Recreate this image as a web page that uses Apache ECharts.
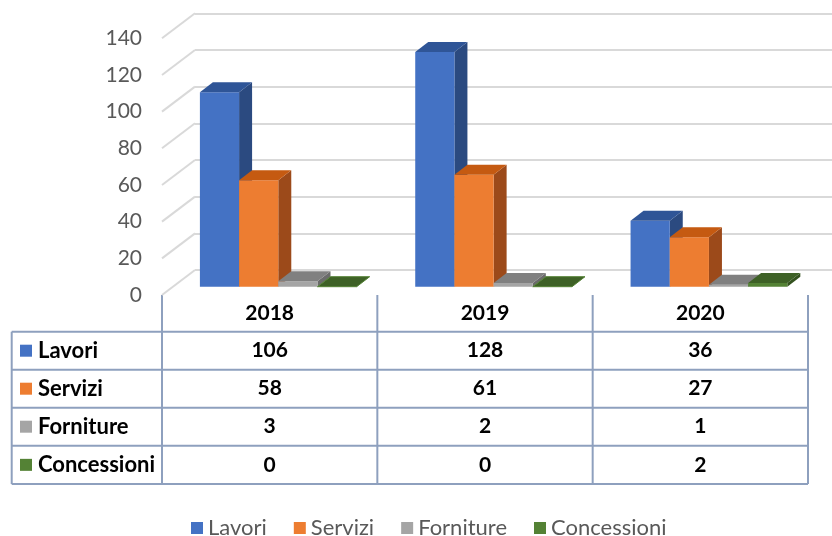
<!DOCTYPE html>
<html>
<head>
<meta charset="utf-8">
<script src="https://cdn.jsdelivr.net/npm/echarts@6/dist/echarts.min.js"></script>
<style>
html,body{margin:0;padding:0;background:#fff}
#main{width:832px;height:536px}
</style>
</head>
<body>
<div id="main"></div>
<script>
// dati
var years = ['2018', '2019', '2020'];
var lavori = [106, 128, 36];
var servizi = [58, 61, 27];
var forniture = [3, 2, 1];
var concessioni = [0, 0, 2];
var yTicks = [0, 20, 40, 60, 80, 100, 120, 140];
var seriesNames = ['Lavori', 'Servizi', 'Forniture', 'Concessioni'];
var seriesData = [lavori, servizi, forniture, concessioni];

// colori: fronte, sopra, lato
var colors = [
    ['#4472C4', '#2F5597', '#2B4A80'],
    ['#ED7D31', '#C55A11', '#9C4A1A'],
    ['#A5A5A5', '#808080', '#6B6B6B'],
    ['#548235', '#3E6126', '#34521F']
];

var FONT = 'Lato';
var GL = 162, GR = 808, GT = 38.3, GB = 295;  // piano frontale
var WX = 33, WY = 25;                          // profondita parete
var BX = 13, BY = 10, BS = 8.3;                // profondita barre
var rowLines = [331.7, 369.7, 407.7, 445.7, 484];
var tableLeft = 11.7;
var lineCol = '#8EA0BE';

var chart = echarts.init(document.getElementById('main'));

function barRender(j) {
    return function (params, api) {
        var i = api.value(0), v = api.value(1);
        var band = api.size([1, 0])[0];
        var c0 = api.coord([i, 0]), c1 = api.coord([i, v]);
        var w = band * 0.182;
        var x0 = c0[0] - band / 2 + band * 0.176 + j * w;
        var yb = c0[1] - BS, yt = c1[1] - BS;
        var col = colors[j];
        var kids = [];
        if (yb - yt > 0.5) {
            kids.push({type: 'polygon', shape: {points: [[x0 + w, yt], [x0 + w + BX, yt - BY], [x0 + w + BX, yb - BY], [x0 + w, yb]]}, style: {fill: col[2]}});
            kids.push({type: 'rect', shape: {x: x0, y: yt, width: w, height: yb - yt}, style: {fill: col[0]}});
        }
        kids.push({type: 'polygon', shape: {points: [[x0, yt], [x0 + w, yt], [x0 + w + BX, yt - BY], [x0 + BX, yt - BY]]}, style: {fill: col[1], stroke: v === 0 ? col[0] : null, lineWidth: 1}});
        return {type: 'group', children: kids};
    };
}

var series = [];
// linee diagonali del pavimento/parete
series.push({
    type: 'custom',
    xAxisIndex: 0, yAxisIndex: 0,
    silent: true,
    data: yTicks.map(function (t) { return [0, t]; }),
    renderItem: function (params, api) {
        var band = api.size([1, 0])[0];
        var p = api.coord([0, api.value(1)]);
        var x = p[0] - band / 2;
        return {type: 'line', shape: {x1: x, y1: p[1], x2: x + WX, y2: p[1] - WY}, style: {stroke: '#D9D9D9', lineWidth: 2}};
    }
});
seriesNames.forEach(function (name, j) {
    series.push({
        type: 'custom',
        name: name,
        xAxisIndex: 0, yAxisIndex: 0,
        itemStyle: {color: colors[j][0]},
        data: seriesData[j].map(function (v, i) { return [i, v]; }),
        encode: {x: 0, y: 1},
        renderItem: barRender(j)
    });
});

// tabella dati
var graphics = [];
var band = (GR - GL) / years.length;
rowLines.forEach(function (y) {
    graphics.push({type: 'line', shape: {x1: tableLeft, y1: y, x2: GR, y2: y}, style: {stroke: lineCol, lineWidth: 2}});
});
graphics.push({type: 'line', shape: {x1: tableLeft, y1: rowLines[0], x2: tableLeft, y2: rowLines[rowLines.length - 1]}, style: {stroke: lineCol, lineWidth: 2}});
for (var k = 0; k <= years.length; k++) {
    graphics.push({type: 'line', shape: {x1: GL + k * band, y1: GB, x2: GL + k * band, y2: rowLines[rowLines.length - 1]}, style: {stroke: lineCol, lineWidth: 2}});
}
years.forEach(function (yr, i) {
    graphics.push({type: 'text', x: GL + (i + 0.5) * band, y: (GB + rowLines[0]) / 2, style: {text: yr, font: 'bold 21px ' + FONT, fill: '#000', align: 'center', verticalAlign: 'middle'}});
});
seriesNames.forEach(function (name, j) {
    var yc = (rowLines[j] + rowLines[j + 1]) / 2;
    graphics.push({type: 'rect', shape: {x: 20, y: yc - 6, width: 12, height: 12}, style: {fill: colors[j][0]}});
    graphics.push({type: 'text', x: 38, y: yc, style: {text: name, font: 'bold 22px ' + FONT, fill: '#000', align: 'left', verticalAlign: 'middle'}});
    seriesData[j].forEach(function (v, i) {
        graphics.push({type: 'text', x: GL + (i + 0.5) * band, y: yc, style: {text: String(v), font: 'bold 21px ' + FONT, fill: '#000', align: 'center', verticalAlign: 'middle'}});
    });
});

chart.setOption({
    animation: false,
    backgroundColor: '#fff',
    grid: [
        {left: GL, top: GT, width: GR - GL, height: GB - GT},
        {left: GL + WX, top: GT - WY, width: GR - GL, height: GB - GT}
    ],
    xAxis: [
        {type: 'category', gridIndex: 0, data: years, axisLine: {show: false}, axisTick: {show: false}, axisLabel: {show: false}},
        {type: 'category', gridIndex: 1, data: years, show: false}
    ],
    yAxis: [
        {type: 'value', gridIndex: 0, min: 0, max: 140, interval: 20,
         axisLine: {show: false}, axisTick: {show: false}, splitLine: {show: false},
         axisLabel: {color: '#595959', fontSize: 21, fontFamily: FONT, margin: 20}},
        {type: 'value', gridIndex: 1, min: 0, max: 140, interval: 20,
         axisLine: {show: false}, axisTick: {show: false}, axisLabel: {show: false},
         splitLine: {show: true, lineStyle: {color: '#D9D9D9', width: 2}}}
    ],
    legend: {
        data: seriesNames,
        top: 512,
        left: 186,
        icon: 'rect',
        itemWidth: 12,
        itemHeight: 12,
        itemGap: 27,
        textStyle: {color: '#595959', fontSize: 22, fontFamily: FONT}
    },
    graphic: graphics,
    series: series
});
</script>
</body>
</html>
